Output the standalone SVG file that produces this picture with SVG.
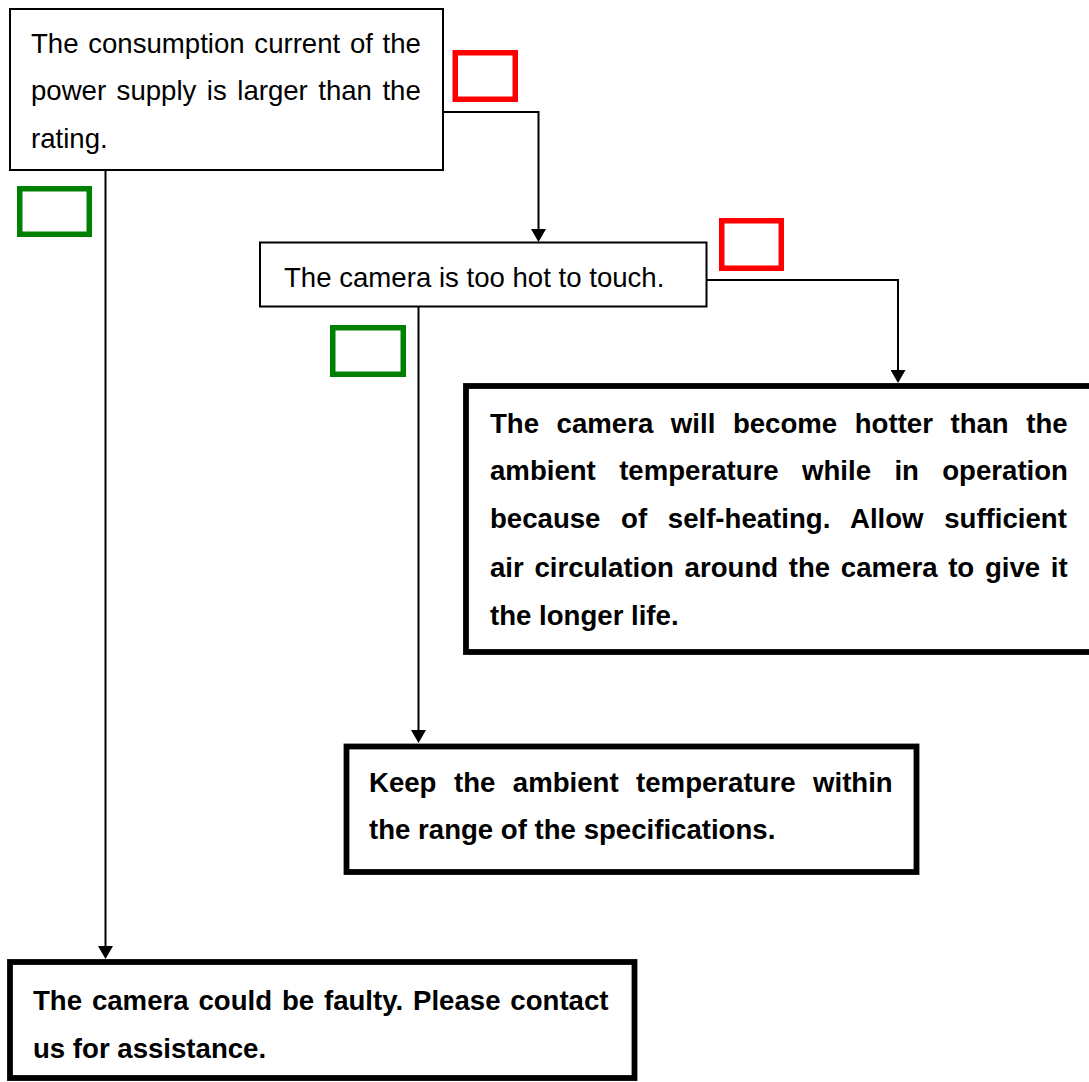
<svg xmlns="http://www.w3.org/2000/svg" width="1089" height="1082" viewBox="0 0 1089 1082">
<defs>
<style>
.thin{fill:#fff;stroke:#000;stroke-width:2}
.thick{fill:#fff;stroke:#000;stroke-width:5.8}
.red{fill:none;stroke:#ff0000;stroke-width:5.5}
.green{fill:none;stroke:#008000;stroke-width:5.5}
.conn{fill:none;stroke:#000;stroke-width:2}
text{font-family:"Liberation Sans",Arial,sans-serif;font-size:27.6px;fill:#000}
.b{font-weight:bold}
</style>
<marker id="arr" viewBox="0 0 13 15" refX="9" refY="7.5" markerWidth="13" markerHeight="15" markerUnits="userSpaceOnUse" orient="auto">
<path d="M0,0 L13,7.5 L0,15 z" fill="#000"/>
</marker>
</defs>
<rect width="1089" height="1082" fill="#fff"/>
<g id="connectors">
<path class="conn" d="M443,112 H538.5 V238" marker-end="url(#arr)"/>
<path class="conn" d="M105.5,170 V955" marker-end="url(#arr)"/>
<path class="conn" d="M706.5,280 H898 V379" marker-end="url(#arr)"/>
<path class="conn" d="M418.5,306.5 V739" marker-end="url(#arr)"/>
</g>
<g id="node1">
<rect class="thin" x="10" y="9" width="433" height="161"/>
<text x="31" y="53" style="word-spacing:2px">The consumption current of the</text>
<text x="31" y="100" style="word-spacing:2.8px">power supply is larger than the</text>
<text x="31" y="148">rating.</text>
</g>
<g id="mark-red-1"><rect class="red" x="455.25" y="52.75" width="60" height="46.5"/></g>
<g id="mark-green-1"><rect class="green" x="19.75" y="188.75" width="69.5" height="45.5"/></g>
<g id="node2">
<rect class="thin" x="260" y="242.5" width="446.5" height="64"/>
<text x="284" y="287">The camera is too hot to touch.</text>
</g>
<g id="mark-red-2"><rect class="red" x="721.75" y="220.75" width="59.5" height="47.5"/></g>
<g id="mark-green-2"><rect class="green" x="332.75" y="327.75" width="70.5" height="46.5"/></g>
<g id="node3">
<rect class="thick" x="466" y="386" width="626" height="266"/>
<text class="b" x="490" y="433" style="word-spacing:9.9px">The camera will become hotter than the</text>
<text class="b" x="490" y="480" style="word-spacing:15.7px">ambient temperature while in operation</text>
<text class="b" x="490" y="528" style="word-spacing:13px">because of self-heating. Allow sufficient</text>
<text class="b" x="490" y="577" style="word-spacing:3px">air circulation around the camera to give it</text>
<text class="b" x="490" y="625">the longer life.</text>
</g>
<g id="node4">
<rect class="thick" x="346.5" y="746.5" width="570" height="125.5"/>
<text class="b" x="369" y="792" style="word-spacing:9.8px">Keep the ambient temperature within</text>
<text class="b" x="369" y="839">the range of the specifications.</text>
</g>
<g id="node5">
<rect class="thick" x="10" y="962" width="624.5" height="116"/>
<text class="b" x="33" y="1010" style="word-spacing:2.2px">The camera could be faulty. Please contact</text>
<text class="b" x="33" y="1058">us for assistance.</text>
</g>
</svg>
